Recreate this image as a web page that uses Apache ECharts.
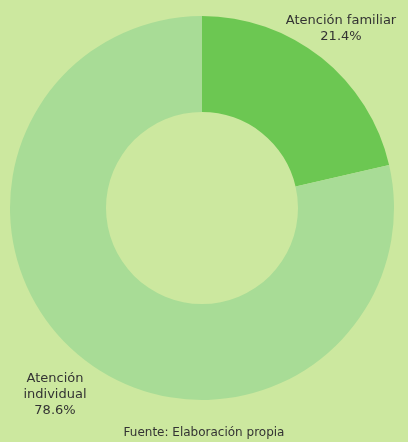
<!DOCTYPE html>
<html><head><meta charset="utf-8">
<script src="https://cdn.jsdelivr.net/npm/echarts@6/dist/echarts.min.js"></script>
<style>html,body{margin:0;padding:0;background:#cce89f;}#c{width:408px;height:442px;}</style>
</head><body><div id="c"></div>
<script>
const categories = ['Atención familiar', 'Atención individual'];
const labelTexts = ['Atención familiar', 'Atención\nindividual'];
const values = [21.4, 78.6];
const colors = ['#6cc752', '#a8dc96'];
const labelPos = [[341, 29], [55, 395]];
const source = 'Fuente: Elaboración propia';

const chart = echarts.init(document.getElementById('c'));
chart.setOption({
  backgroundColor: '#cce89f',
  animation: false,
  title: {
    text: source, left: 'center', top: 427, padding: 0,
    textStyle: {fontFamily: 'DejaVu Sans', fontSize: 12, fontWeight: 'normal', color: '#333'}
  },
  series: [{
    type: 'pie',
    center: [202, 208],
    radius: [96, 192],
    startAngle: 90,
    clockwise: true,
    silent: true,
    data: categories.map((c, i) => ({name: c, value: values[i], itemStyle: {color: colors[i]}})),
    label: {
      show: true,
      position: 'outside',
      alignTo: 'none',
      overflow: 'none',
      width: 200,
      fontFamily: 'DejaVu Sans',
      fontSize: 13,
      lineHeight: 16,
      color: '#333',
      align: 'center',
      formatter: p => labelTexts[p.dataIndex] + '\n' + p.value.toFixed(1) + '%'
    },
    labelLine: {show: false},
    labelLayout: p => ({x: labelPos[p.dataIndex][0], y: labelPos[p.dataIndex][1], align: 'center', verticalAlign: 'middle', width: 200})
  }]
});
</script></body></html>
